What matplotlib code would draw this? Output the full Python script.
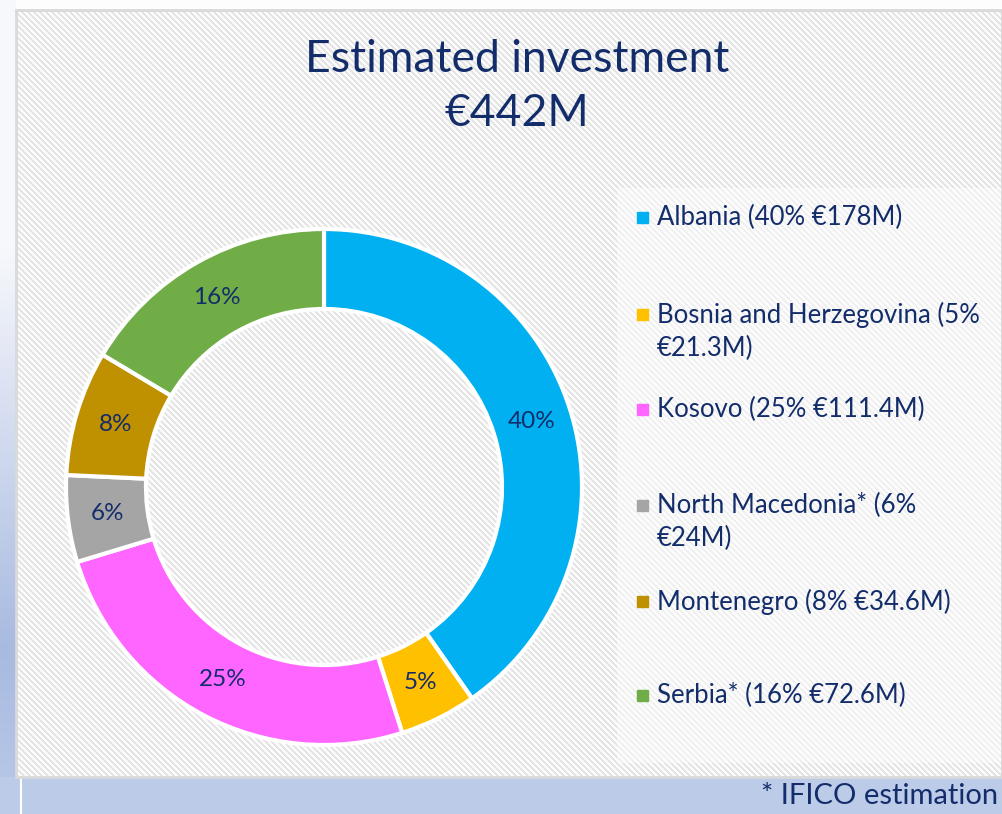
import numpy as np
import matplotlib.pyplot as plt
from matplotlib.patches import Rectangle

plt.rcParams['font.family'] = ['Lato', 'DejaVu Sans']

# data
countries = ["Albania", "Bosnia and Herzegovina", "Kosovo", "North Macedonia*",
             "Montenegro", "Serbia*"]
investment = [178, 21.3, 111.4, 24, 34.6, 72.6]          # EUR million
pct_labels = ["40%", "5%", "25%", "6%", "8%", "16%"]
legend_labels = ["Albania (40% €178M)",
                 "Bosnia and Herzegovina (5%\n€21.3M)",
                 "Kosovo (25% €111.4M)",
                 "North Macedonia* (6%\n€24M)",
                 "Montenegro (8% €34.6M)",
                 "Serbia* (16% €72.6M)"]
colors = ["#00b0f0", "#ffc000", "#ff66ff", "#a5a5a5", "#bf9000", "#70ad47"]

navy = "#132d6b"
W, H = 1002, 814

fig = plt.figure(figsize=(W / 100, H / 100), dpi=100)
fig.patch.set_facecolor("#fdfdfd")

# background layer in pixel coordinates
bg = fig.add_axes([0, 0, 1, 1])
bg.set_xlim(0, W)
bg.set_ylim(H, 0)
bg.axis("off")

# left gradient strip
yy = np.linspace(0, 1, 200)
top = np.array([0.97, 0.975, 0.99])
mid = np.array([0.66, 0.73, 0.88])
bot = np.array([0.73, 0.79, 0.91])
grad = np.where(yy[:, None] < 0.8,
                top + (mid - top) * np.clip((yy[:, None] - 0.3) / 0.5, 0, 1),
                mid + (bot - mid) * (yy[:, None] - 0.8) / 0.2)
bg.imshow(grad[:, None, :], extent=[0, 16, H, 0], aspect="auto", zorder=0)

# bottom band
bg.add_patch(Rectangle((0, 777), W, H - 777, color="#bccbe7", zorder=1))
bg.plot([21, 21], [777, H], color="white", lw=1.5, zorder=2)

# hatched chart area
x0, x1, y0, y1 = 16, W, 10, 777
xs = np.arange(x1 - x0)
ys = np.arange(y1 - y0)
phase = (xs[None, :] - ys[:, None]) % 6
tex = np.where(phase < 3, 0.985, 0.895)
bg.imshow(tex, cmap="gray", vmin=0, vmax=1, extent=[x0, x1, y1, y0],
          aspect="auto", interpolation="nearest", zorder=1)
bg.add_patch(Rectangle((x0, y0), x1 - x0, y1 - y0, fill=False,
                       edgecolor="#d9d9d9", lw=2, zorder=3))

# legend backdrop
bg.add_patch(Rectangle((617, 188), W - 617, 763 - 188, facecolor="white",
                       alpha=0.45, lw=0, zorder=2))

# title
bg.text(517, 60, "Estimated investment", ha="center", va="center",
        fontsize=32, color=navy, zorder=5)
bg.text(517, 114, "€442M", ha="center", va="center",
        fontsize=32, color=navy, zorder=5)

# footnote
bg.text(998, 796, "* IFICO estimation", ha="right", va="center",
        fontsize=21, color=navy, zorder=5)

# legend
ys_leg = [218, 315, 410, 506, 602, 696]
for yl, lab, c in zip(ys_leg, legend_labels, colors):
    bg.add_patch(Rectangle((637, yl - 6), 11, 11, color=c, zorder=5))
    bg.text(657, yl - 13, lab, ha="left", va="top", fontsize=18.5,
            color=navy, linespacing=1.4, zorder=5)

# donut
cx, cy, r = 324, 487, 258
ax = fig.add_axes([(cx - r) / W, (H - cy - r) / H, 2 * r / W, 2 * r / H])
ax.patch.set_visible(False)
wedges, _ = ax.pie(investment, colors=colors, startangle=90, counterclock=False,
                   radius=1, wedgeprops=dict(width=0.31, edgecolor="white",
                                             linewidth=3))
ax.set_xlim(-1.0, 1.0)
ax.set_ylim(-1.0, 1.0)
ax.axis("off")

for w, lab in zip(wedges, pct_labels):
    ang = np.deg2rad((w.theta1 + w.theta2) / 2)
    ax.text(0.845 * np.cos(ang), 0.845 * np.sin(ang), lab, ha="center",
            va="center", fontsize=17.5, color=navy)

fig.savefig("out.png", dpi=100)
